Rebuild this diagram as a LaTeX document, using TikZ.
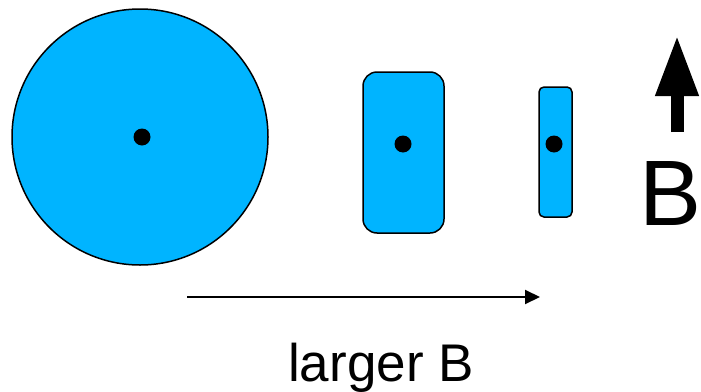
\documentclass[tikz,border=0pt]{standalone}
\usepackage{fontspec}
\setmainfont{Liberation Sans}
\usetikzlibrary{arrows.meta}
\definecolor{shapeblue}{RGB}{0,180,255}
\tikzset{
  body/.style={draw=black, line width=1.5pt, fill=shapeblue},
  dot/.style={circle, fill=black, inner sep=0pt, minimum size=17pt},
  lbl/.style={inner sep=0pt, text=black}
}
\begin{document}
\begin{tikzpicture}[x=1pt,y=-1pt]
\useasboundingbox (0,0) rectangle (701,391);
% big circle
\node[body, circle, minimum size=256pt, inner sep=0pt] (disc) at (140,137) {};
\node[dot] (d1) at (142,137) {};
% medium rounded rectangle
\node[body, rectangle, rounded corners=14pt, minimum width=81pt, minimum height=161pt, inner sep=0pt] (mid) at (403.5,152.5) {};
\node[dot] (d2) at (403,144) {};
% thin rounded rectangle
\node[body, rectangle, rounded corners=5pt, minimum width=33pt, minimum height=130pt, inner sep=0pt] (thin) at (555.5,152) {};
\node[dot] (d3) at (554,144) {};
% up arrow for B
\coordinate (bstart) at (677,132);
\coordinate (bend) at (677,35);
\draw[line width=13pt, -{Triangle[length=61pt,width=40pt]}] (bstart) -- (bend);
\node[lbl, anchor=base west, font=\fontsize{93}{96}\selectfont] (B) at (639,225) {B};
% horizontal arrow
\coordinate (hstart) at (187,297);
\coordinate (hend) at (540,297);
\draw[line width=2pt, -{Triangle[length=15pt,width=14pt]}] (hstart) -- (hend);
\node[lbl, anchor=base, font=\fontsize{53}{56}\selectfont] (larger) at (381,381) {larger B};
\end{tikzpicture}
\end{document}
